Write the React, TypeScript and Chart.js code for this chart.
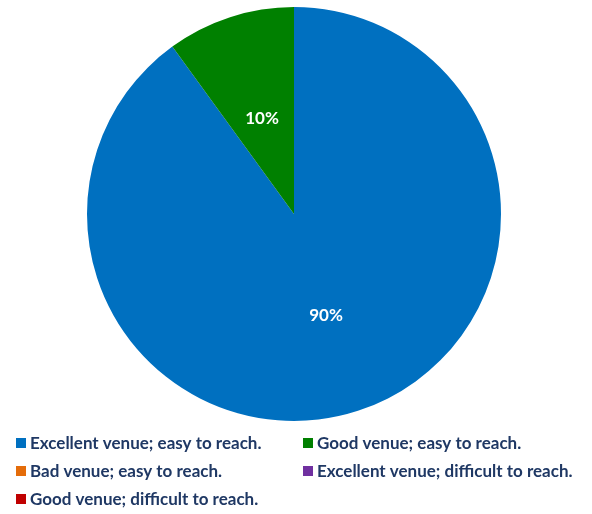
import React, { useEffect, useRef } from "react";
import { Chart, registerables } from "chart.js";

Chart.register(...registerables);

const categories = [
  "Excellent venue; easy to reach.",
  "Good venue; easy to reach.",
  "Bad venue; easy to reach.",
  "Excellent venue; difficult to reach.",
  "Good venue; difficult to reach.",
];
const shares = [90, 10, 0, 0, 0];
const colors = ["#0070C0", "#008000", "#E46C0A", "#7030A0", "#C00000"];

const FONT = "Lato, 'Open Sans', sans-serif";

const labelPlugin = {
  id: "sliceLabels",
  afterDatasetsDraw(chart: any) {
    const ctx = chart.ctx;
    const meta = chart.getDatasetMeta(0);
    const data = chart.data.datasets[0].data as number[];
    const total = data.reduce((a: number, b: number) => a + b, 0);
    ctx.save();
    ctx.fillStyle = "#FFFFFF";
    ctx.font = `bold 17px ${FONT}`;
    ctx.textAlign = "center";
    ctx.textBaseline = "middle";
    meta.data.forEach((arc: any, i: number) => {
      const v = data[i];
      if (!v) return;
      const { x, y, startAngle, endAngle, outerRadius } = arc.getProps(
        ["x", "y", "startAngle", "endAngle", "outerRadius"],
        true
      );
      const mid = (startAngle + endAngle) / 2;
      const r = outerRadius * 0.5;
      ctx.fillText(
        `${Math.round((v / total) * 100)}%`,
        x + Math.cos(mid) * r,
        y + Math.sin(mid) * r + 3
      );
    });
    ctx.restore();
  },
};

const legendPlugin = {
  id: "gridLegend",
  afterDraw(chart: any) {
    const ctx = chart.ctx;
    const labels = chart.data.labels as string[];
    const bg = chart.data.datasets[0].backgroundColor as string[];
    const colX = [16, 303];
    const rowY = [443, 471, 499];
    ctx.save();
    ctx.font = `bold 17px ${FONT}`;
    ctx.textBaseline = "middle";
    ctx.textAlign = "left";
    labels.forEach((lab, i) => {
      const cx = colX[i % 2];
      const cy = rowY[Math.floor(i / 2)];
      ctx.fillStyle = bg[i];
      ctx.fillRect(cx, cy - 5, 10, 10);
      ctx.fillStyle = "#1F3864";
      ctx.fillText(lab, cx + 14, cy + 1);
    });
    ctx.restore();
  },
};

export default function App() {
  const ref = useRef<HTMLCanvasElement | null>(null);
  useEffect(() => {
    if (!ref.current) return;
    const chart = new Chart(ref.current, {
      type: "pie",
      data: {
        labels: categories,
        datasets: [
          {
            data: shares,
            backgroundColor: colors,
            borderWidth: 0,
          },
        ],
      },
      options: {
        animation: false,
        responsive: false,
        maintainAspectRatio: false,
        layout: { padding: { top: 7, bottom: 93, left: 0, right: 4 } },
        plugins: {
          legend: { display: false },
          tooltip: { enabled: false },
        },
      },
      plugins: [labelPlugin, legendPlugin],
    });
    return () => chart.destroy();
  }, []);
  return (
    <div style={{ position: "fixed", left: 0, top: 0, width: 592, height: 514, background: "#fff" }}>
      <canvas ref={ref} width={592} height={514} style={{ width: 592, height: 514, display: "block" }} />
    </div>
  );
}
